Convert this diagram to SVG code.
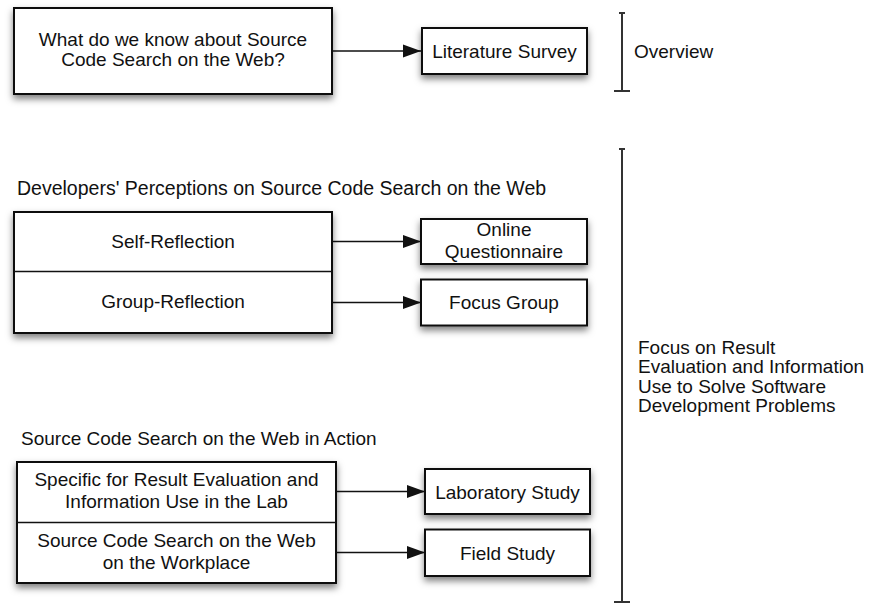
<svg xmlns="http://www.w3.org/2000/svg" width="869" height="603" viewBox="0 0 869 603">
<style>
  text { font-family: "Liberation Sans", Arial, Helvetica, sans-serif; font-size: 19px; fill: #111; }
  .c { text-anchor: middle; }
  .box { fill: #fff; stroke: #111; stroke-width: 2; filter: url(#sh); }
  .div { stroke: #111; stroke-width: 1.5; fill: none; }
  .arr { stroke: #111; stroke-width: 1.5; fill: none; marker-end: url(#ah); }
  .br { stroke: #333; stroke-width: 2; fill: none; }
</style>
<defs>
  <filter id="sh" x="-10%" y="-20%" width="120%" height="150%">
    <feDropShadow dx="0" dy="4" stdDeviation="3.5" flood-color="#000" flood-opacity="0.5"/>
  </filter>
  <marker id="ah" markerUnits="userSpaceOnUse" markerWidth="19" markerHeight="14" refX="18" refY="7" orient="auto">
    <path d="M0,0.5 L18,7 L0,13.5 Z" fill="#111"/>
  </marker>
</defs>
<rect width="869" height="603" fill="#fff"/>

<g id="connectors">
  <line class="arr" x1="333" y1="51" x2="421" y2="51"/>
  <line class="arr" x1="333" y1="241.5" x2="421" y2="241.5"/>
  <line class="arr" x1="333" y1="302.5" x2="421" y2="302.5"/>
  <line class="arr" x1="337" y1="491.5" x2="425" y2="491.5"/>
  <line class="arr" x1="337" y1="552.5" x2="425" y2="552.5"/>
</g>

<g id="node-question">
  <rect class="box" x="14" y="8" width="318" height="86"/>
  <text class="c" x="173" y="45.5">What do we know about Source</text>
  <text class="c" x="173" y="66">Code Search on the Web?</text>
</g>
<g id="node-literature">
  <rect class="box" x="422" y="28" width="165" height="46"/>
  <text class="c" x="504.5" y="57.5">Literature Survey</text>
</g>
<g id="bracket-overview">
  <path class="br" d="M622,13 V91 M619,13 H625 M614,91 H630"/>
  <text x="634" y="57.5">Overview</text>
</g>

<text id="heading-perceptions" x="17" y="195" style="font-size:19.5px">Developers' Perceptions on Source Code Search on the Web</text>
<g id="node-reflection">
  <rect class="box" x="14" y="212" width="318" height="121"/>
  <line class="div" x1="14" y1="271.5" x2="332" y2="271.5"/>
  <text class="c" x="173" y="247.5">Self-Reflection</text>
  <text class="c" x="173" y="307.5">Group-Reflection</text>
</g>
<g id="node-questionnaire">
  <rect class="box" x="421" y="219" width="166" height="45"/>
  <text class="c" x="504" y="236">Online</text>
  <text class="c" x="504" y="258">Questionnaire</text>
</g>
<g id="node-focusgroup">
  <rect class="box" x="421" y="279.5" width="166" height="46"/>
  <text class="c" x="504" y="309">Focus Group</text>
</g>

<text id="heading-action" x="21" y="445">Source Code Search on the Web in Action</text>
<g id="node-action">
  <rect class="box" x="17" y="462" width="319" height="121"/>
  <line class="div" x1="17" y1="522.5" x2="336" y2="522.5"/>
  <text class="c" x="176.5" y="485.5">Specific for Result Evaluation and</text>
  <text class="c" x="176.5" y="507.5">Information Use in the Lab</text>
  <text class="c" x="176.5" y="546.5">Source Code Search on the Web</text>
  <text class="c" x="176.5" y="568.5">on the Workplace</text>
</g>
<g id="node-laboratory">
  <rect class="box" x="425" y="469" width="165" height="45"/>
  <text class="c" x="507.5" y="498.5">Laboratory Study</text>
</g>
<g id="node-field">
  <rect class="box" x="425" y="529.5" width="165" height="46.5"/>
  <text class="c" x="507.5" y="559.5">Field Study</text>
</g>

<g id="bracket-focus">
  <path class="br" d="M622,149 V602 M619,149 H625 M614,602 H630"/>
  <text x="638" y="354">Focus on Result</text>
  <text x="638" y="373">Evaluation and Information</text>
  <text x="638" y="392.5">Use to Solve Software</text>
  <text x="638" y="411.5">Development Problems</text>
</g>
</svg>
